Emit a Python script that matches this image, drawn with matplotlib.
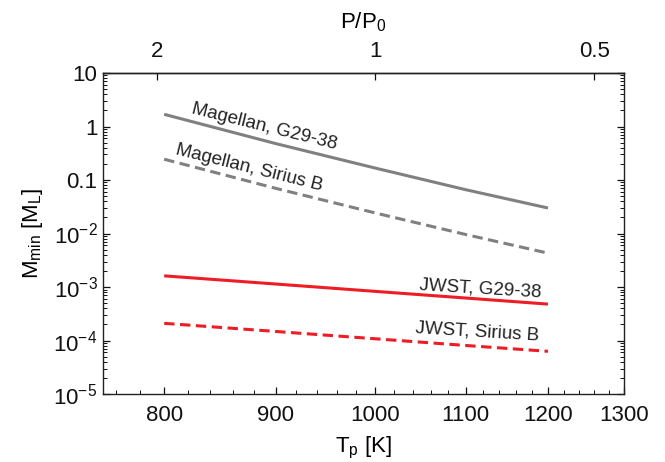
import matplotlib
matplotlib.use("Agg")
import matplotlib.pyplot as plt
import numpy as np
from matplotlib.ticker import FixedLocator, NullLocator, NullFormatter, FuncFormatter

plt.rcParams['font.family'] = ['Liberation Sans', 'DejaVu Sans']
plt.rcParams['mathtext.fontset'] = 'custom'
plt.rcParams['mathtext.rm'] = 'Liberation Sans'
plt.rcParams['mathtext.it'] = 'Liberation Sans:italic'
plt.rcParams['mathtext.default'] = 'regular'

# data
temps = [800, 900, 1000, 1100, 1200]
magellan_g29 = [1.69, 0.48, 0.167, 0.066, 0.030]
magellan_sirius = [0.245, 0.070, 0.0242, 0.0096, 0.0043]
jwst_g29 = [1.62e-3, 1.14e-3, 8.3e-4, 6.24e-4, 4.8e-4]
jwst_sirius = [2.1e-4, 1.48e-4, 1.08e-4, 8.1e-5, 6.3e-5]

xticks = [800, 900, 1000, 1100, 1200, 1300]
top_ticks = [2, 1, 0.5]
top_labels = ['2', '1', '0.5']

gray = '#808080'
red = '#ee1c24'

fig = plt.figure(figsize=(6.65, 4.62), dpi=100)
ax = fig.add_axes([0.155, 0.147, 0.783, 0.695])

ax.plot(temps, magellan_g29, color=gray, lw=2.2, solid_capstyle='butt')
ax.plot(temps, magellan_sirius, color=gray, lw=2.2, ls=(0, (3.4, 1.8)))
ax.plot(temps, jwst_g29, color=red, lw=2.2, solid_capstyle='butt')
ax.plot(temps, jwst_sirius, color=red, lw=2.2, ls=(0, (3.4, 1.8)))

ax.set_xscale('log')
ax.set_yscale('log')
ax.set_xlim(750, 1300)
ax.set_ylim(1e-5, 10)

ax.xaxis.set_major_locator(FixedLocator(xticks))
ax.xaxis.set_minor_locator(FixedLocator([t for t in range(760, 1300, 20) if t % 100 != 0]))
ax.xaxis.set_major_formatter(FuncFormatter(lambda v, p: '%d' % v))
ax.xaxis.set_minor_formatter(NullFormatter())

def yfmt(v, p):
    e = int(round(np.log10(v)))
    if e == 1:
        return '10'
    if e == 0:
        return '1'
    if e == -1:
        return '0.1'
    return r'$10^{%d}$' % e

ax.yaxis.set_major_formatter(FuncFormatter(yfmt))

ax.tick_params(axis='both', which='both', direction='in', labelsize=16, colors='#111111')
ax.tick_params(axis='x', which='both', top=False, pad=8)
ax.tick_params(axis='y', which='both', right=True, pad=4)
ax.tick_params(which='major', length=5, width=0.9)
ax.tick_params(which='minor', length=3, width=0.7)
for s in ax.spines.values():
    s.set_linewidth(1.0)
    s.set_color('#222222')

sec = ax.secondary_xaxis('top', functions=(lambda t: (1000.0 / t) ** 3,
                                           lambda p: 1000.0 / np.cbrt(p)))
sec.set_xticks(top_ticks)
sec.set_xticklabels(top_labels)
sec.xaxis.set_minor_locator(NullLocator())
sec.tick_params(direction='in', length=5, width=0.9, labelsize=16, pad=8, colors='#111111')
sec.spines['top'].set_linewidth(1.0)
sec.set_xlabel(r'P/P$_0$', fontsize=16, labelpad=9)

ax.set_xlabel(r'T$_p$ [K]', fontsize=16, labelpad=6)
ax.set_ylabel(r'M$_{min}$ [M$_L$]', fontsize=16, labelpad=6)

tcol = '#222222'
ax.text(889, 0.97, 'Magellan, G29-38', fontsize=13.5, rotation=-14, color=tcol,
        ha='center', va='center', rotation_mode='anchor')
ax.text(875, 0.166, 'Magellan, Sirius B', fontsize=13.5, rotation=-14, color=tcol,
        ha='center', va='center', rotation_mode='anchor')
ax.text(1117, 9.5e-4, 'JWST, G29-38', fontsize=13.5, rotation=-3.5, color=tcol,
        ha='center', va='center', rotation_mode='anchor')
ax.text(1113, 1.46e-4, 'JWST, Sirius B', fontsize=13.5, rotation=-3.5, color=tcol,
        ha='center', va='center', rotation_mode='anchor')

fig.savefig('out.png', dpi=100)
